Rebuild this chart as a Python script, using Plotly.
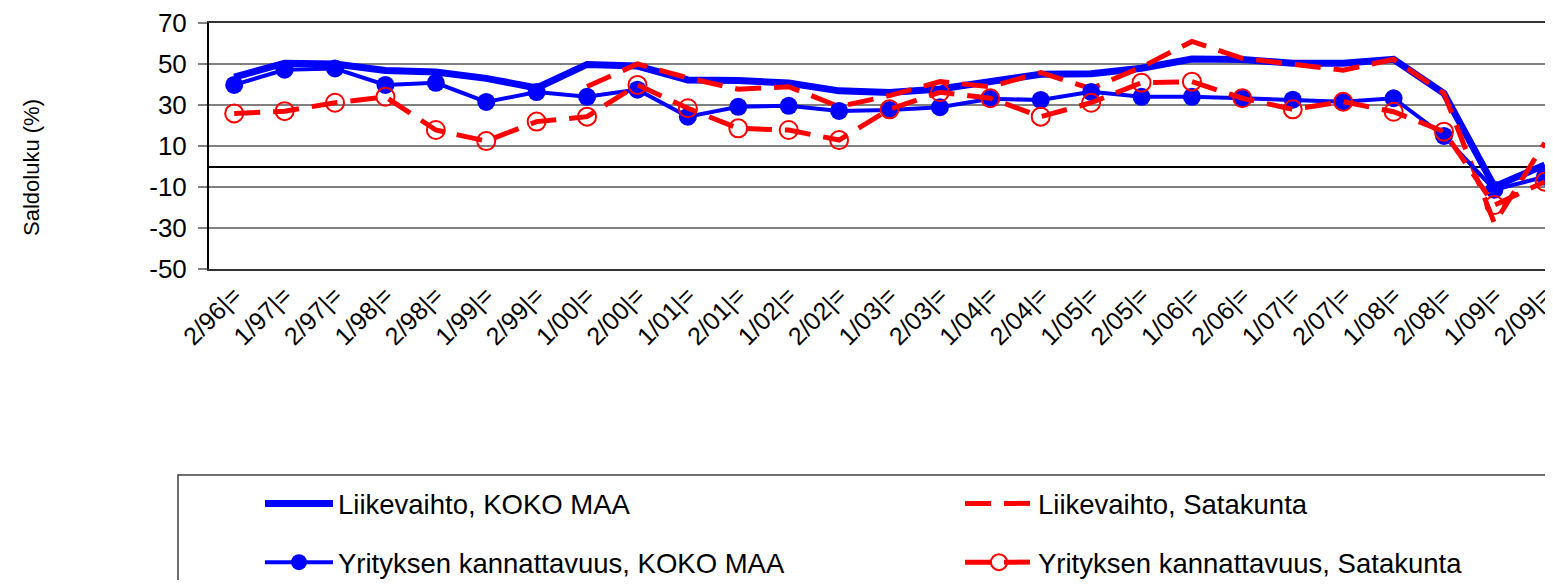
import plotly.graph_objects as go

categories = ["2/96|=", "1/97|=", "2/97|=", "1/98|=", "2/98|=", "1/99|=", "2/99|=",
              "1/00|=", "2/00|=", "1/01|=", "2/01|=", "1/02|=", "2/02|=", "1/03|=",
              "2/03|=", "1/04|=", "2/04|=", "1/05|=", "2/05|=", "1/06|=", "2/06|=",
              "1/07|=", "2/07|=", "1/08|=", "2/08|=", "1/09|=", "2/09|="]

liikevaihto_koko = [43.6, 50.4, 50.0, 46.8, 46.1, 43.0, 38.3, 49.8, 49.0, 42.2, 42.0, 40.7, 36.9,
                    36.1, 37.8, 41.3, 45.0, 45.3, 47.9, 52.4, 52.2, 50.4, 50.4, 52.3, 35.7, -9.8, 0.8]
liikevaihto_sata = [None, None, None, None, None, None, None, 39.0, 50.0, 43.2, 37.7, 38.9, 29.2,
                    34.6, 41.4, 38.9, 45.8, 38.0, 48.5, 61.0, 52.8, 49.9, 47.0, 52.3, 35.7, -27.7, 11.5]
kannattavuus_koko = [39.8, 47.2, 47.8, 39.8, 40.8, 31.5, 36.3, 34.0, 37.5, 24.3, 29.1, 29.6, 27.1,
                     27.6, 28.9, 33.0, 32.5, 36.4, 34.0, 34.0, 33.3, 32.6, 31.6, 33.3, 14.9, -11.3, -5.0]
kannattavuus_sata = [25.9, 27.0, 31.1, 34.0, 17.8, 12.4, 21.9, 24.3, 39.8, 28.4, 18.6, 17.8, 12.9,
                     27.9, 36.2, 33.3, 24.3, 31.1, 40.9, 41.4, 33.3, 27.9, 31.6, 26.7, 17.0, -18.8, -7.4]

y_ticks = [-50, -30, -10, 10, 30, 50, 70]

# page body has an 8px margin: target screen coords are converted by subtracting OFF
OFF = 8
W, H = 1553, 588 - 2 * OFF
L, T, B = 209 - OFF, 23 - OFF, 269 - OFF
RIGHT_EDGE = 1570  # where the reference plot area would end (it is cut by the window)
PW, PH = W - L, B - T
CAT_W = 50.4

def px_x(x):
    return (x - OFF - L) / PW

def px_y(y):
    return (B - (y - OFF)) / PH

FONT = "Liberation Sans, Arial, sans-serif"
BLUE = "#0000FF"
RED = "#FF0000"
DASH = "26px,13px"

fig = go.Figure()
fig.add_trace(go.Scatter(x=categories, y=liikevaihto_koko, mode="lines",
                         name="Liikevaihto, KOKO MAA", line=dict(color=BLUE, width=7),
                         legend="legend", legendgroup="a"))
fig.add_trace(go.Scatter(x=categories, y=liikevaihto_sata, mode="lines",
                         name="Liikevaihto, Satakunta", line=dict(color=RED, width=5, dash=DASH),
                         legend="legend2", legendgroup="b", connectgaps=False))
fig.add_trace(go.Scatter(x=categories, y=kannattavuus_koko, mode="lines+markers",
                         name="Yrityksen kannattavuus, KOKO MAA", line=dict(color=BLUE, width=4),
                         marker=dict(symbol="circle", size=18, color=BLUE),
                         legend="legend", legendgroup="c"))
fig.add_trace(go.Scatter(x=categories, y=kannattavuus_sata, mode="lines+markers",
                         name="Yrityksen kannattavuus, Satakunta", line=dict(color=RED, width=5, dash=DASH),
                         marker=dict(symbol="circle-open", size=18, color=RED, line=dict(width=2, color=RED)),
                         legend="legend2", legendgroup="d"))

legend_common = dict(
    font=dict(family=FONT, size=27.5, color="black"),
    bgcolor="rgba(0,0,0,0)", borderwidth=0, itemwidth=68,
    orientation="v", xanchor="left", yanchor="top", tracegroupgap=20,
    itemclick=False,
)

x_end = 26.5 - (RIGHT_EDGE - (W + OFF)) / CAT_W

fig.update_layout(
    width=W, height=H,
    margin=dict(l=L, r=0, t=T, b=H - B, autoexpand=False),
    paper_bgcolor="white", plot_bgcolor="white",
    font=dict(family=FONT, color="black"),
    showlegend=True,
    legend=dict(x=px_x(260), y=px_y(479), **legend_common),
    legend2=dict(x=px_x(960), y=px_y(479), **legend_common),
    xaxis=dict(
        type="category", range=[-0.5, x_end],
        showgrid=False, showline=True, mirror=True, linecolor="#333333", linewidth=2,
        ticks="", tickangle=-45, tickfont=dict(family=FONT, size=25, color="black"),
        ticklabelstandoff=0,
    ),
    yaxis=dict(
        range=[-50, 70], tickvals=y_ticks, ticktext=[str(v) for v in y_ticks],
        showgrid=True, gridcolor="#808080", gridwidth=2,
        zeroline=True, zerolinecolor="black", zerolinewidth=1.5,
        showline=True, linecolor="black", linewidth=2,
        ticks="outside", ticklen=9, tickwidth=2, tickcolor="#808080",
        tickfont=dict(family=FONT, size=26, color="black"),
        ticklabelstandoff=6,
    ),
    shapes=[dict(type="rect", xref="paper", yref="paper",
                 x0=px_x(178), x1=px_x(1575), y0=px_y(475), y1=px_y(600),
                 line=dict(color="#404040", width=1.5), fillcolor="rgba(0,0,0,0)", layer="below")],
    annotations=[dict(text="Saldoluku (%)", textangle=-90, xref="paper", yref="paper",
                      x=px_x(32), y=px_y(168), xanchor="center", yanchor="middle",
                      showarrow=False, font=dict(family=FONT, size=22, color="black"))],
)

fig.write_html("out.html")
